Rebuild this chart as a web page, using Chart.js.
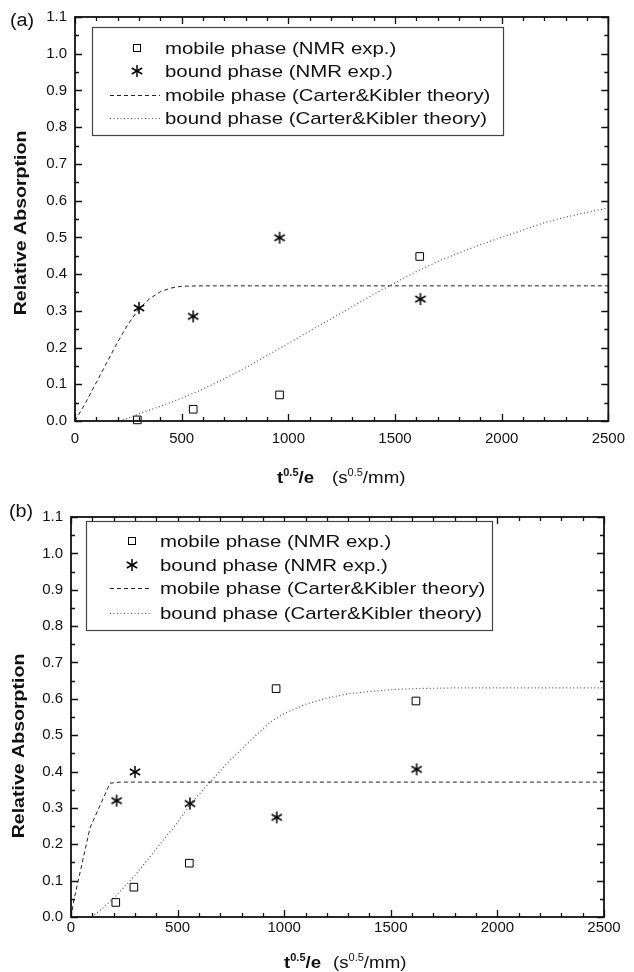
<!DOCTYPE html>
<html>
<head>
<meta charset="utf-8">
<script src="https://cdn.jsdelivr.net/npm/chart.js@4.4.0/dist/chart.umd.min.js"></script>
<style>
    html, body { margin: 0; padding: 0; background: #fff; }
    #wrap { position: relative; width: 634px; height: 972px; }
    canvas { position: absolute; left: 0; }
    #chartA { top: 0; }
    #chartB { top: 500px; }
</style>
</head>
<body>
<div id="wrap">
    <canvas id="chartA" width="634" height="500"></canvas>
    <canvas id="chartB" width="634" height="472"></canvas>
</div>
<script>
// Axis ticks (shared by both panels)
const xTickValues = [0, 500, 1000, 1500, 2000, 2500];
const yTickValues = [0.0, 0.1, 0.2, 0.3, 0.4, 0.5, 0.6, 0.7, 0.8, 0.9, 1.0, 1.1];

const seriesLabels = [
    'mobile phase (NMR exp.)',
    'bound phase (NMR exp.)',
    'mobile phase (Carter&Kibler theory)',
    'bound phase (Carter&Kibler theory)'
];

// Panel (a)
const aMobileExpX = [292, 554, 959, 1616];
const aMobileExpY = [0.003, 0.032, 0.071, 0.448];
const aBoundExpX = [300, 554, 959, 1619];
const aBoundExpY = [0.308, 0.285, 0.499, 0.332];
const aMobileThX = [0, 50, 100, 150, 200, 250, 300, 350, 400, 450, 500, 600, 2500];
const aMobileThY = [0, 0.05, 0.105, 0.16, 0.215, 0.265, 0.305, 0.333, 0.352, 0.362, 0.367, 0.368, 0.368];
const aBoundThX = [208, 250, 300, 400, 500, 600, 700, 800, 900, 1000, 1100, 1200, 1300,
    1400, 1500, 1600, 1700, 1800, 1900, 2000, 2100, 2200, 2300, 2400, 2500];
const aBoundThY = [0, 0.008, 0.02, 0.04, 0.062, 0.087, 0.115, 0.145, 0.178, 0.211, 0.245, 0.278, 0.311,
    0.345, 0.376, 0.407, 0.434, 0.458, 0.48, 0.5, 0.52, 0.54, 0.555, 0.568, 0.58];

// Panel (b)
const bMobileExpX = [210, 295, 555, 962, 1618];
const bMobileExpY = [0.040, 0.082, 0.148, 0.628, 0.594];
const bBoundExpX = [214, 300, 558, 965, 1621];
const bBoundExpY = [0.320, 0.399, 0.312, 0.274, 0.406];
const bMobileThX = [0, 15, 89, 183, 230, 2500];
const bMobileThY = [0, 0.05, 0.245, 0.368, 0.371, 0.371];
const bBoundThX = [97, 150, 206, 300, 417, 500, 558, 650, 750, 850, 933, 1000, 1100,
    1200, 1300, 1400, 1500, 1600, 1800, 2500];
const bBoundThY = [0, 0.025, 0.055, 0.114, 0.2, 0.26, 0.309, 0.37, 0.433, 0.49, 0.535, 0.56, 0.585,
    0.602, 0.614, 0.62, 0.625, 0.628, 0.63, 0.63];

const FONT = '"Liberation Sans", Arial, Helvetica, sans-serif';

function pts(xs, ys) {
    return xs.map((x, i) => ({ x: x, y: ys[i] }));
}

// 6-armed asterisk marker
function makeStar(r) {
    const c = document.createElement('canvas');
    const s = Math.ceil(r * 2 + 4);
    c.width = s;
    c.height = s;
    const g = c.getContext('2d');
    g.strokeStyle = '#000';
    g.lineWidth = 1.5;
    g.translate(s / 2, s / 2);
    for (let k = 0; k < 3; k++) {
        const ang = Math.PI / 2 + k * Math.PI / 3;
        g.beginPath();
        g.moveTo(Math.cos(ang) * r, Math.sin(ang) * r);
        g.lineTo(-Math.cos(ang) * r, -Math.sin(ang) * r);
        g.stroke();
    }
    return c;
}
const starImg = makeStar(6);

// text drawn slightly stretched along its direction, returns advance
function drawText(ctx, text, x, y, font, sx) {
    ctx.save();
    ctx.font = font;
    ctx.textBaseline = 'alphabetic';
    ctx.textAlign = 'left';
    ctx.translate(x, y);
    ctx.scale(sx, 1);
    ctx.fillText(text, 0, 0);
    const w = ctx.measureText(text).width * sx;
    ctx.restore();
    return w;
}

// frame, inward ticks, titles, legend
const decorPlugin = {
    id: 'decor',
    afterDraw(chart, args, o) {
        const { ctx, chartArea: a } = chart;
        const xs = chart.scales.x, ys = chart.scales.y;
        ctx.save();
        ctx.fillStyle = '#111';
        ctx.strokeStyle = '#111';

        // ticks
        ctx.lineWidth = 1.3;
        ctx.beginPath();
        for (let v = 0; v <= 2500; v += 100) {
            const px = Math.round(xs.getPixelForValue(v)) + 0.5;
            const len = v % 500 === 0 ? 7 : 4;
            ctx.moveTo(px, a.bottom); ctx.lineTo(px, a.bottom - len);
            ctx.moveTo(px, a.top); ctx.lineTo(px, a.top + len);
        }
        for (let i = 0; i <= 22; i++) {
            const py = Math.round(ys.getPixelForValue(i * 0.05)) + 0.5;
            const len = i % 2 === 0 ? 7 : 4;
            ctx.moveTo(a.left, py); ctx.lineTo(a.left + len, py);
            ctx.moveTo(a.right, py); ctx.lineTo(a.right - len, py);
        }
        ctx.stroke();

        // frame
        ctx.lineWidth = 1.8;
        ctx.strokeRect(a.left, a.top, a.right - a.left, a.bottom - a.top);

        // panel label
        drawText(ctx, o.label.text, o.label.x, o.label.y, '18px ' + FONT, 1.1);

        // y title
        ctx.save();
        ctx.translate(o.yTitle.x, o.yTitle.y);
        ctx.rotate(-Math.PI / 2);
        ctx.scale(1.15, 1);
        ctx.font = 'bold 17px ' + FONT;
        ctx.textAlign = 'center';
        ctx.textBaseline = 'middle';
        ctx.fillText('Relative Absorption', 0, 0);
        ctx.restore();

        // x title
        const t = o.xTitle;
        let cx = t.x1;
        cx += drawText(ctx, 't', cx, t.base, 'bold 17px ' + FONT, 1.1);
        cx += drawText(ctx, '0.5', cx, t.base - 7, 'bold 10px ' + FONT, 1.1);
        drawText(ctx, '/e', cx, t.base, 'bold 17px ' + FONT, 1.1);
        cx = t.x2;
        cx += drawText(ctx, '(s', cx, t.base, '17px ' + FONT, 1.1);
        cx += drawText(ctx, '0.5', cx, t.base - 7, '10px ' + FONT, 1.1);
        drawText(ctx, '/mm)', cx, t.base, '17px ' + FONT, 1.1);

        // legend
        const L = o.legend;
        ctx.fillStyle = '#fff';
        ctx.fillRect(L.left, L.top, L.right - L.left, L.bottom - L.top);
        ctx.strokeStyle = '#444';
        ctx.lineWidth = 1.2;
        ctx.strokeRect(L.left + 0.5, L.top + 0.5, L.right - L.left, L.bottom - L.top);
        const dsets = chart.data.datasets;
        dsets.forEach((ds, i) => {
            const ry = L.rows[i];
            ctx.save();
            if (i === 0) {
                ctx.fillStyle = '#fff';
                ctx.strokeStyle = '#000';
                ctx.lineWidth = 1;
                ctx.fillRect(L.symX - 3.5, ry - 3.5, 7, 7);
                ctx.strokeRect(L.symX - 3.5, ry - 3.5, 7, 7);
            } else if (i === 1) {
                ctx.drawImage(starImg, L.symX - starImg.width / 2, ry - starImg.height / 2);
            } else {
                ctx.strokeStyle = ds.borderColor;
                ctx.lineWidth = ds.borderWidth;
                ctx.setLineDash(ds.borderDash);
                ctx.beginPath();
                ctx.moveTo(L.lineX1, ry + 0.5);
                ctx.lineTo(L.lineX2, ry + 0.5);
                ctx.stroke();
            }
            ctx.restore();
            ctx.fillStyle = '#111';
            drawText(ctx, ds.label, L.textX, ry + 6, '17px ' + FONT, 1.2);
        });
        ctx.restore();
    }
};

function makeChart(id, p) {
    return new Chart(document.getElementById(id), {
        type: 'scatter',
        data: {
            datasets: [
                {
                    label: seriesLabels[0],
                    data: pts(p.mobileExpX, p.mobileExpY),
                    pointStyle: 'rect',
                    pointRadius: 5.4,
                    pointBorderWidth: 1,
                    borderColor: '#000',
                    backgroundColor: '#fff',
                    clip: false
                },
                {
                    label: seriesLabels[1],
                    data: pts(p.boundExpX, p.boundExpY),
                    pointStyle: starImg,
                    clip: false
                },
                {
                    label: seriesLabels[2],
                    data: pts(p.mobileThX, p.mobileThY),
                    showLine: true,
                    pointRadius: 0,
                    borderColor: '#222',
                    borderWidth: 1,
                    borderDash: [4, 3],
                    tension: 0
                },
                {
                    label: seriesLabels[3],
                    data: pts(p.boundThX, p.boundThY),
                    showLine: true,
                    pointRadius: 0,
                    borderColor: '#555',
                    borderWidth: 1.2,
                    borderDash: [1, 2.5],
                    tension: 0
                }
            ]
        },
        options: {
            responsive: false,
            animation: false,
            devicePixelRatio: 1,
            events: [],
            layout: { padding: p.padding },
            scales: {
                x: {
                    type: 'linear',
                    min: 0,
                    max: 2500,
                    afterBuildTicks: s => { s.ticks = xTickValues.map(v => ({ value: v })); },
                    afterFit: s => { s.height = p.xAxisH; },
                    grid: { display: false, drawTicks: false, tickLength: 0 },
                    border: { display: false },
                    ticks: {
                        autoSkip: false,
                        maxRotation: 0,
                        padding: p.xPad,
                        color: '#111',
                        font: { family: FONT, size: 15 },
                        callback: v => String(v)
                    }
                },
                y: {
                    type: 'linear',
                    min: 0,
                    max: 1.1,
                    afterBuildTicks: s => { s.ticks = yTickValues.map(v => ({ value: v })); },
                    afterFit: s => { s.width = p.yAxisW; },
                    grid: { display: false, drawTicks: false, tickLength: 0 },
                    border: { display: false },
                    ticks: {
                        autoSkip: false,
                        padding: 8,
                        color: '#111',
                        font: { family: FONT, size: 15 },
                        callback: v => Number(v).toFixed(1)
                    }
                }
            },
            plugins: {
                legend: { display: false },
                tooltip: { enabled: false },
                decor: p.decor
            }
        },
        plugins: [decorPlugin]
    });
}

makeChart('chartA', {
    mobileExpX: aMobileExpX, mobileExpY: aMobileExpY,
    boundExpX: aBoundExpX, boundExpY: aBoundExpY,
    mobileThX: aMobileThX, mobileThY: aMobileThY,
    boundThX: aBoundThX, boundThY: aBoundThY,
    padding: { top: 16, right: 18, left: 0, bottom: 0 },
    yAxisW: 75,
    xAxisH: 79,
    xPad: 9,
    decor: {
        label: { text: '(a)', x: 10, y: 25.5 },
        yTitle: { x: 21, y: 223 },
        xTitle: { x1: 277, x2: 332, base: 483 },
        legend: { left: 92, top: 27, right: 503, bottom: 135, rows: [48, 71, 95, 118],
            symX: 137, lineX1: 110, lineX2: 160, textX: 165 }
    }
});

makeChart('chartB', {
    mobileExpX: bMobileExpX, mobileExpY: bMobileExpY,
    boundExpX: bBoundExpX, boundExpY: bBoundExpY,
    mobileThX: bMobileThX, mobileThY: bMobileThY,
    boundThX: bBoundThX, boundThY: bBoundThY,
    padding: { top: 12, right: 30, left: 0, bottom: 0 },
    yAxisW: 71,
    xAxisH: 55,
    xPad: 2,
    decor: {
        label: { text: '(b)', x: 9, y: 16.5 },
        yTitle: { x: 19, y: 246 },
        xTitle: { x1: 284, x2: 333, base: 468 },
        legend: { left: 86, top: 21, right: 492, bottom: 130, rows: [41, 65, 88, 113],
            symX: 132, lineX1: 110, lineX2: 152, textX: 160 }
    }
});
</script>
</body>
</html>
